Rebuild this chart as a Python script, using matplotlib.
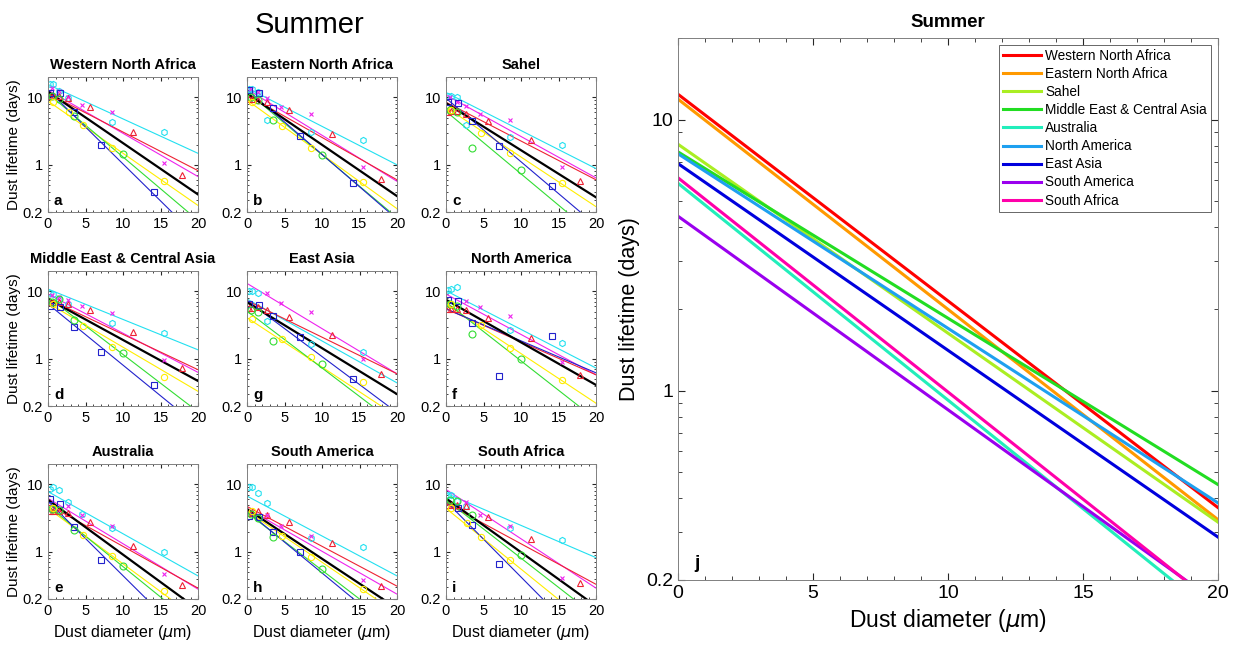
"""Summer dust lifetime vs diameter: per-region panels and regional fits."""

import matplotlib

matplotlib.use("Agg")
import matplotlib.pyplot as plt
import numpy as np
from matplotlib.ticker import FixedLocator, MultipleLocator, NullFormatter, LogLocator

plt.rcParams["font.family"] = ["Liberation Sans", "DejaVu Sans"]
nan = np.nan

# ---- small panels (grid order) ----
panel_titles = ["Western North Africa", "Eastern North Africa", "Sahel",
                "Middle East & Central Asia", "East Asia", "North America",
                "Australia", "South America", "South Africa"]
panel_letters = ["a", "b", "c", "d", "g", "f", "e", "h", "i"]

# model points: diameters shared, one row of lifetimes per panel
cyan_d = [0.3, 0.7, 1.5, 2.7, 4.5, 8.5, 15.5]
cyan_pts = [
    [15.7, 15.7, 12.4, 9.7, nan, 4.25, 3.1],
    [13.5, 13.2, 11.8, 4.66, nan, 3.1, 2.37],
    [10.6, 10.6, 10.2, 3.85, nan, 2.6, 2.0],
    [9.4, 9.1, 7.7, 6.5, nan, 3.4, 2.4],
    [10.0, 10.0, 9.4, 3.6, nan, 1.66, 1.28],
    [10.5, 10.8, 11.7, nan, nan, 2.66, 1.69],
    [8.4, 9.0, 8.2, 5.4, 3.6, 2.26, 1.0],
    [9.0, 9.0, 7.4, 5.3, nan, 1.6, 1.18],
    [7.0, 7.0, 5.75, 4.8, nan, 2.26, 1.52],
]
red_d = [0.2, 0.6, 1.5, 2.7, 5.6, 11.3, 17.9]
red_pts = [
    [10.6, 10.6, 10.6, 9.9, 7.3, 3.1, 0.71],
    [9.4, 9.4, 9.1, 8.6, 6.5, 2.9, 0.62],
    [6.0, 6.2, 6.2, 5.6, 4.5, 2.37, 0.57],
    [6.9, 6.9, 6.9, 6.5, 5.2, 2.5, 0.73],
    [5.6, 5.6, 5.8, 5.2, 4.16, 2.24, 0.6],
    [5.5, 5.5, 5.4, 5.2, 4.07, 2.05, 0.57],
    [4.06, 4.06, 4.06, 3.75, 2.73, 1.2, 0.32],
    [3.75, 3.75, 4.06, 3.55, 2.73, 1.35, 0.31],
    [4.96, 4.96, 4.96, 4.8, 3.27, 1.55, 0.34],
]
magenta_d = [0.5, 1.5, 2.7, 4.5, 8.5, 15.5]
magenta_pts = [
    [13.9, 12.4, 10.0, 7.7, 6.0, 1.06],
    [13.5, 11.8, 9.7, 7.3, 5.6, 0.94],
    [10.0, 8.6, 7.5, 5.7, 4.55, 0.94],
    [8.8, 8.2, 7.4, 6.0, 4.75, 0.95],
    [nan, nan, 9.4, 6.75, 5.0, 1.0],
    [nan, nan, 7.3, 5.8, 4.3, 0.91],
    [nan, nan, 4.7, 3.55, 2.4, 0.47],
    [nan, nan, 3.55, 2.44, 1.74, 0.38],
    [nan, nan, 5.4, 3.55, 2.4, 0.41],
]
blue_d = [0.3, 1.6, 3.5, 7.0, 14.1]
blue_pts = [
    [11.4, 11.4, 6.0, 1.94, 0.40],
    [12.8, 11.4, 7.0, 2.7, 0.54],
    [8.6, 8.2, 4.4, 1.9, 0.48],
    [6.0, 5.8, 3.0, 1.25, 0.41],
    [6.5, 6.3, 4.3, 2.07, 0.51],
    [7.4, 7.3, 3.4, 0.56, 2.2],
    [6.0, 5.15, 2.33, 0.75, nan],
    [3.4, 3.27, 2.0, 0.99, nan],
    [nan, 4.4, 2.53, 0.67, nan],
]
green_d = [0.5, 1.5, 3.5, 10.0]
green_pts = [
    [10.5, 9.5, 5.2, 1.43],
    [10.0, 9.0, 4.66, 1.4],
    [6.5, 6.0, 1.8, 0.84],
    [6.9, 7.7, 3.7, 1.2],
    [5.2, 5.0, 1.83, 0.83],
    [6.5, 6.0, 2.3, 1.0],
    [4.3, 4.1, 2.13, 0.61],
    [3.6, 3.16, 1.66, 0.56],
    [5.9, 5.6, 3.5, 0.9],
]
yellow_d = [0.6, 2.8, 4.6, 8.5, 15.5]
yellow_pts = [
    [8.6, 6.0, 3.85, 1.8, 0.58],
    [8.6, nan, 3.7, 1.76, 0.55],
    [6.5, nan, 3.0, 1.5, 0.54],
    [6.5, nan, 3.05, 1.48, 0.54],
    [3.85, nan, 1.96, 1.06, 0.46],
    [6.5, nan, 3.15, 1.43, 0.48],
    [4.4, nan, 1.75, 0.86, 0.26],
    [4.0, nan, 1.74, 0.84, 0.28],
    [4.4, 2.7, 1.65, 0.75, nan],
]

# exponential fits: lifetime at d=0 and d=20 um, per panel
fit_d = [0, 20]
cyan_fit = [(15.5, 1.48), (13.8, 1.0), (11.8, 0.88), (10.8, 1.36), (7.7, 0.44),
            (10.2, 0.73), (7.8, 0.44), (6.7, 0.44), (7.4, 0.82)]
magenta_fit = [(12.8, 0.67), (13.2, 0.57), (10.8, 0.64), (9.1, 0.63), (13.1, 0.6),
               (9.1, 0.58), (6.2, 0.28), (4.4, 0.236), (8.4, 0.29)]
red_fit = [(11.4, 0.82), (10.8, 0.6), (8.45, 0.6), (7.7, 0.69), (7.3, 0.6),
           (5.5, 0.58), (5.0, 0.29), (4.7, 0.31), (5.25, 0.33)]
yellow_fit = [(8.8, 0.25), (9.1, 0.224), (7.1, 0.24), (6.7, 0.33), (4.07, 0.14),
              (6.5, 0.22), (4.4, 0.10), (4.0, 0.123), (4.4, 0.07)]
green_fit = [(11.4, 0.15), (12.1, 0.165), (6.2, 0.087), (8.2, 0.164), (5.1, 0.105),
             (6.9, 0.126), (4.8, 0.076), (3.8, 0.075), (5.9, 0.11)]
blue_fit = [(12.8, 0.083), (13.0, 0.157), (9.7, 0.127), (6.5, 0.10), (7.3, 0.16),
            (5.5, 0.62), (5.6, 0.035), (4.0, 0.059), (5.6, 0.032)]
black_fit = [(12.1, 0.364), (11.4, 0.344), (8.2, 0.33), (7.7, 0.47), (6.9, 0.30),
             (7.5, 0.41), (5.9, 0.14), (4.3, 0.145), (6.2, 0.157)]

# ---- panel j: regional fits ----
regions = ["Western North Africa", "Eastern North Africa", "Sahel",
           "Middle East & Central Asia", "Australia", "North America",
           "East Asia", "South America", "South Africa"]
region_start = [12.4, 11.9, 8.11, 7.6, 5.82, 7.48, 6.88, 4.40, 6.10]
region_end = [0.37, 0.334, 0.327, 0.45, 0.146, 0.385, 0.288, 0.164, 0.16]
region_colors = ["#ff0000", "#ff9900", "#aaee22", "#22dd22", "#22eebb",
                 "#1ea0f0", "#0000dd", "#9a00ee", "#ff00aa"]

C_CYAN, C_MAG, C_RED = "#22e0f0", "#ee22ee", "#ee2233"
C_BLUE, C_GREEN, C_YEL = "#2222cc", "#33dd33", "#ffee00"


def style_axis(ax, tick_size):
    ax.set_yscale("log")
    ax.set_xlim(0, 20)
    ax.set_ylim(0.2, 20)
    ax.yaxis.set_major_locator(FixedLocator([0.2, 1, 10]))
    ax.set_yticklabels(["0.2", "1", "10"])
    ax.yaxis.set_minor_locator(LogLocator(subs=np.arange(2, 10)))
    ax.yaxis.set_minor_formatter(NullFormatter())
    ax.xaxis.set_major_locator(MultipleLocator(5))
    ax.xaxis.set_minor_locator(MultipleLocator(1))
    ax.tick_params(which="both", direction="in", top=True, right=True,
                   labelsize=tick_size, colors="#262626", labelcolor="black")
    ax.tick_params(which="major", length=3)
    ax.tick_params(which="minor", length=1.5)
    for s in ax.spines.values():
        s.set_color("#808080")
        s.set_linewidth(0.7)


fig = plt.figure(figsize=(12.39, 6.45), dpi=100)
W, H = 1239, 645

col_left = [48, 247, 446]
row_top = [77, 271, 464]
pw, ph = 150, 135

for k in range(9):
    r, c = divmod(k, 3)
    ax = fig.add_axes([col_left[c] / W, 1 - (row_top[r] + ph) / H, pw / W, ph / H])
    fits = [(cyan_fit, C_CYAN), (magenta_fit, C_MAG), (red_fit, C_RED),
            (yellow_fit, C_YEL), (green_fit, C_GREEN), (blue_fit, C_BLUE)]
    for fit, col in fits:
        ax.plot(fit_d, fit[k], color=col, lw=0.8)
    ax.plot(fit_d, black_fit[k], color="black", lw=1.6)
    ms = 4.5
    ax.plot(cyan_d, cyan_pts[k], "h", mfc="none", mec=C_CYAN, ms=ms, mew=0.8)
    ax.plot(red_d, red_pts[k], "^", mfc="none", mec=C_RED, ms=ms + 0.5, mew=0.8)
    ax.plot(magenta_d, magenta_pts[k], "x", color=C_MAG, ms=ms - 1, mew=0.8)
    ax.plot(blue_d, blue_pts[k], "s", mfc="none", mec=C_BLUE, ms=ms - 0.5, mew=0.8)
    ax.plot(green_d, green_pts[k], "o", mfc="none", mec=C_GREEN, ms=ms + 0.5, mew=0.8)
    ax.plot(yellow_d, yellow_pts[k], "o", mfc="none", mec=C_YEL, ms=ms, mew=0.8)
    style_axis(ax, 10.5)
    ax.set_title(panel_titles[k], fontsize=10.5, fontweight="bold", pad=6)
    ax.text(0.04, 0.03, panel_letters[k], transform=ax.transAxes,
            fontsize=11, fontweight="bold", va="bottom", ha="left")
    if c == 0:
        ax.set_ylabel("Dust lifetime (days)", fontsize=11, labelpad=1)
    if r == 2:
        ax.set_xlabel(r"Dust diameter ($\mu$m)", fontsize=11.5)

fig.text(310 / W, 1 - 25 / H, "Summer", fontsize=21, ha="center", va="center")

axj = fig.add_axes([678 / W, 1 - 580 / H, 540 / W, 542 / H])
for name, y0, y1, col in zip(regions, region_start, region_end, region_colors):
    axj.plot(fit_d, [y0, y1], color=col, lw=2.2, label=name)
style_axis(axj, 14)
axj.tick_params(which="major", length=5)
axj.tick_params(which="minor", length=3)
axj.set_title("Summer", fontsize=13.5, fontweight="bold", pad=8)
axj.set_xlabel(r"Dust diameter ($\mu$m)", fontsize=16.5)
axj.set_ylabel("Dust lifetime (days)", fontsize=15.5, labelpad=4)
axj.text(0.03, 0.015, "j", transform=axj.transAxes, fontsize=14,
         fontweight="bold", va="bottom", ha="left")
leg = axj.legend(loc="upper right", fontsize=9.8, frameon=True, fancybox=False,
                 borderaxespad=0.5, handlelength=2.8, handletextpad=0.3,
                 labelspacing=0.3, borderpad=0.3)
leg.get_frame().set_edgecolor("#404040")
leg.get_frame().set_linewidth(0.7)

fig.savefig("out.png", dpi=100)
